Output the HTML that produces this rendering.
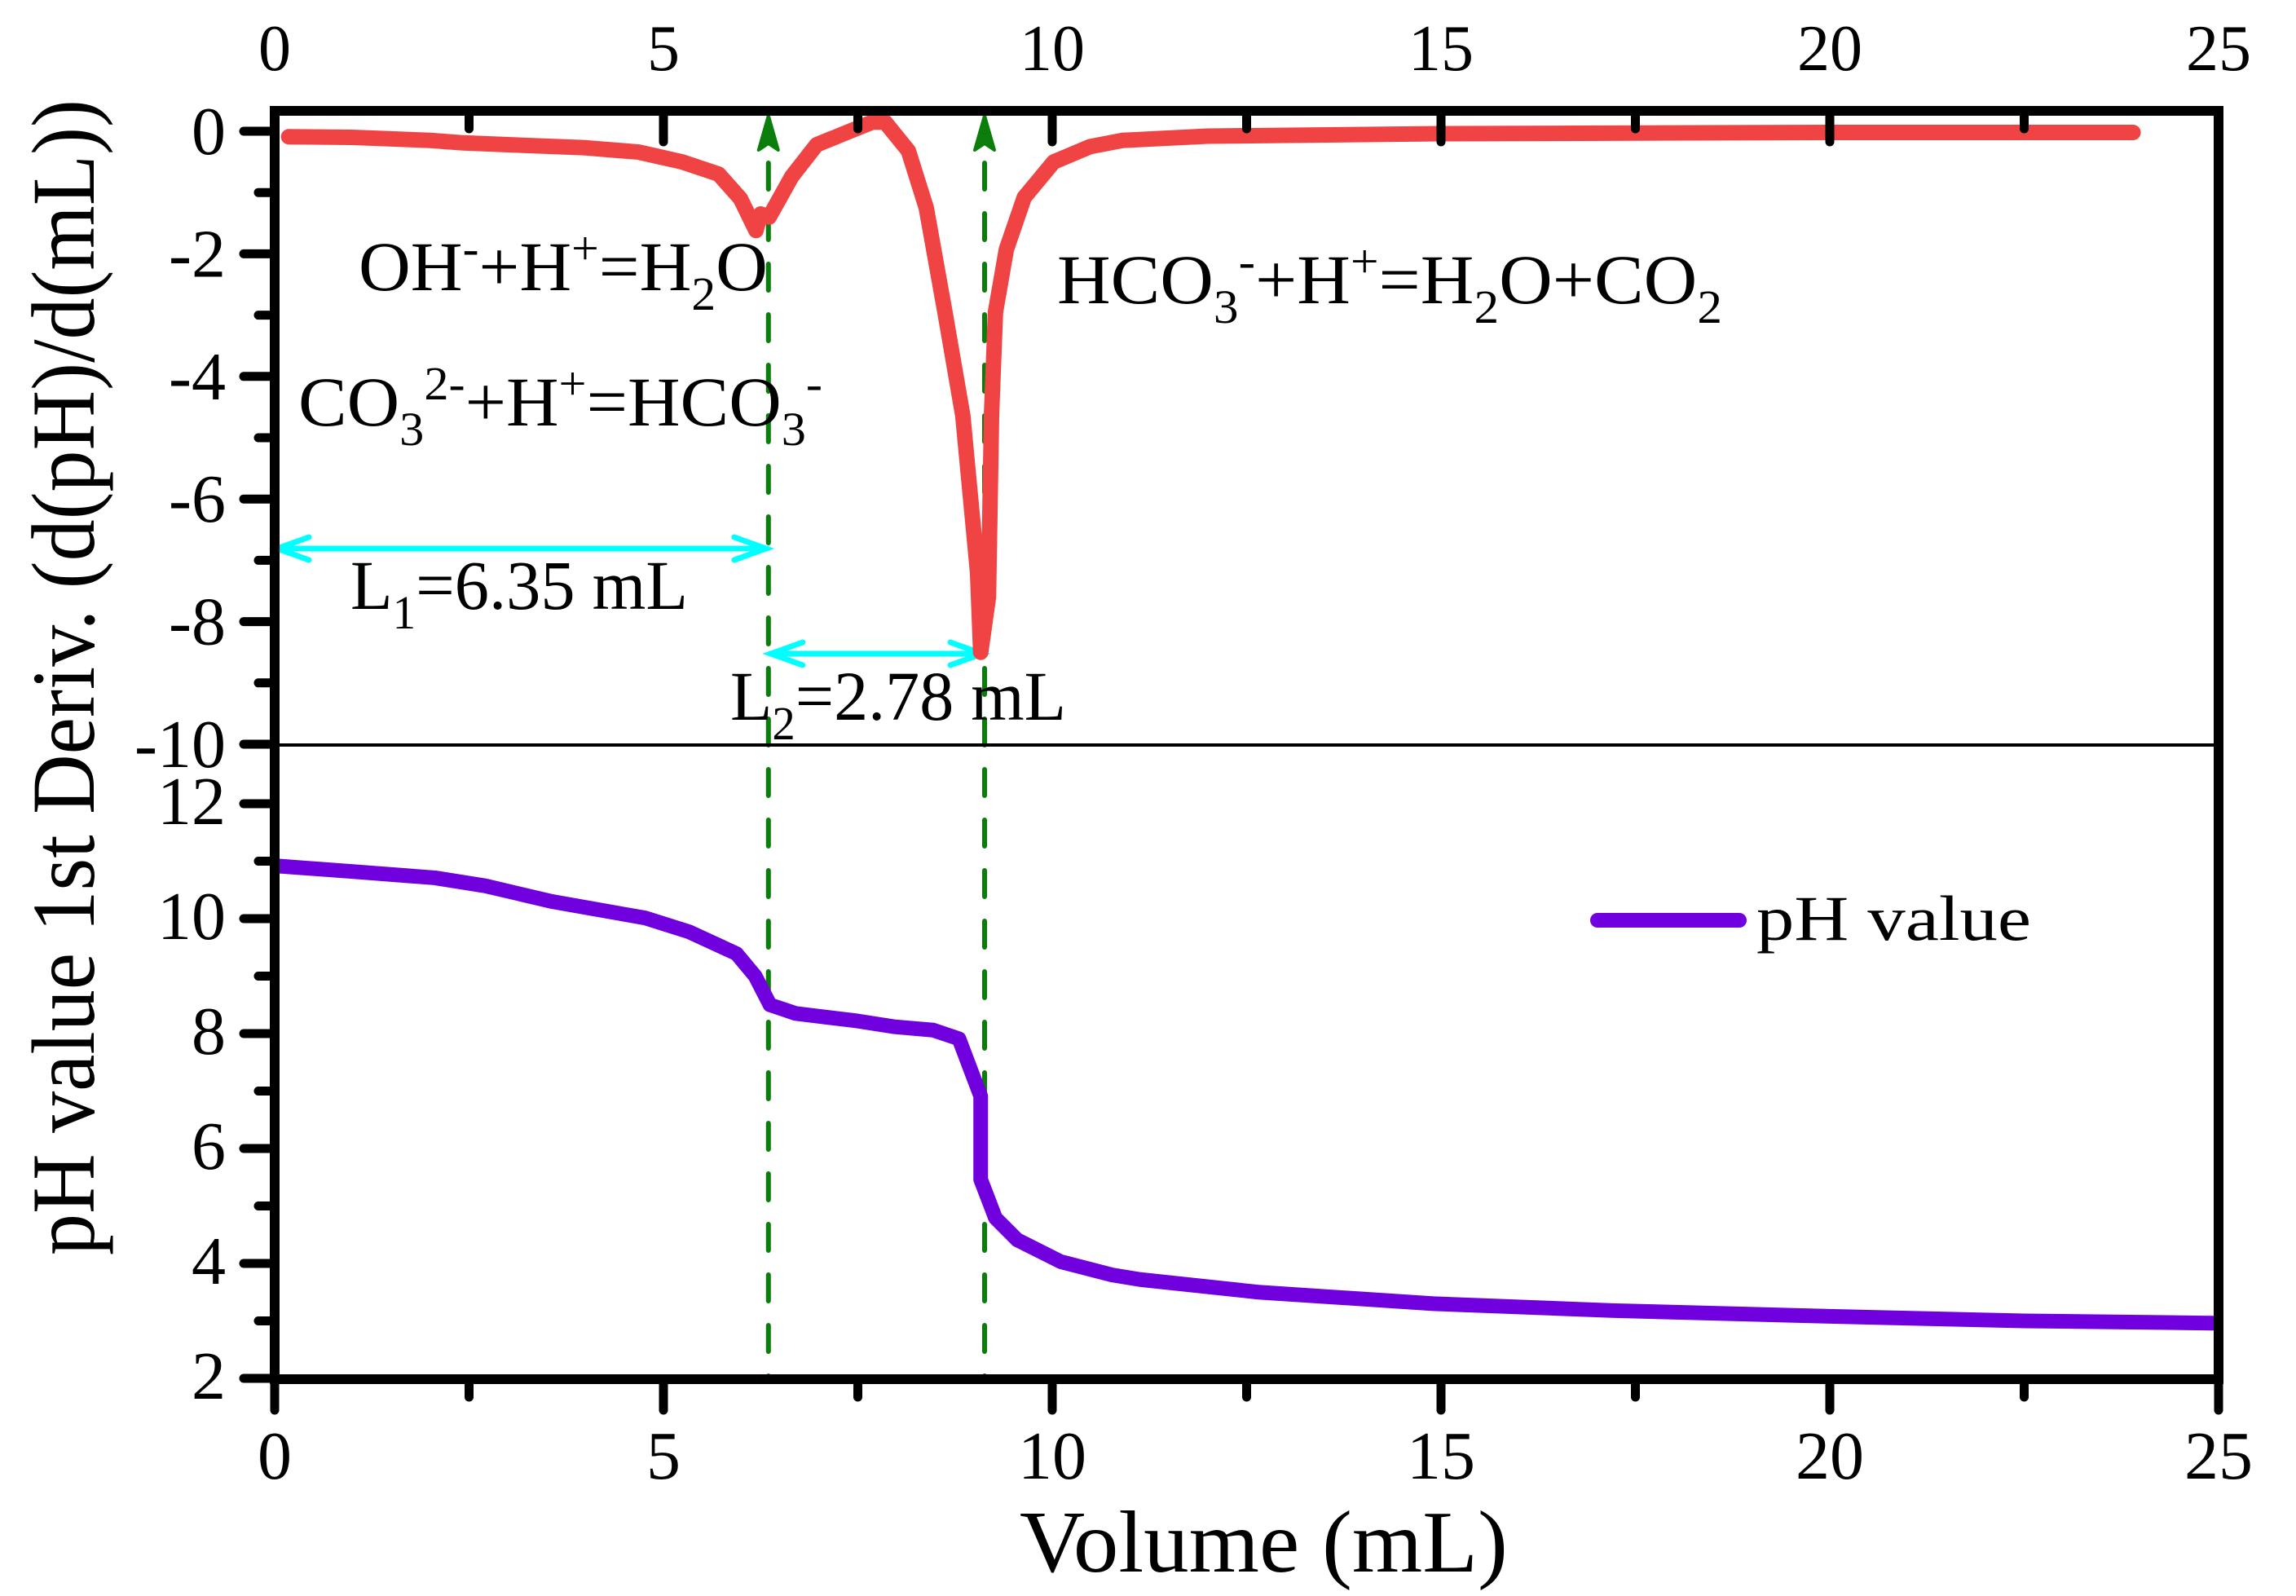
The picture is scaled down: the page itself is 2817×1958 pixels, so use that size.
<!DOCTYPE html>
<html><head><meta charset="utf-8"><style>
html,body{margin:0;padding:0;background:#fff;}
svg{display:block;font-family:"Liberation Serif",serif;}
</style></head><body>
<svg id="chart" width="2817" height="1958" viewBox="0 0 2817 1958" xmlns="http://www.w3.org/2000/svg">
<g id="marks"></g>
<g id="axes"></g>
<g id="annot">
 <text x="440" y="356" font-size="86" textLength="502" lengthAdjust="spacingAndGlyphs">OH<tspan dy="-32" font-size="58">-</tspan><tspan dy="32">+H</tspan><tspan dy="-32" font-size="58">+</tspan><tspan dy="32">=H</tspan><tspan dy="24" font-size="58">2</tspan><tspan dy="-24">O</tspan></text>
 <text x="366" y="522" font-size="86" textLength="643" lengthAdjust="spacingAndGlyphs">CO<tspan dy="24" font-size="58">3</tspan><tspan dy="-56" font-size="58">2-</tspan><tspan dy="32">+H</tspan><tspan dy="-32" font-size="58">+</tspan><tspan dy="32">=HCO</tspan><tspan dy="24" font-size="58">3</tspan><tspan dy="-56" font-size="58">-</tspan></text>
 <text x="1297" y="372" font-size="86" textLength="816" lengthAdjust="spacingAndGlyphs">HCO<tspan dy="24" font-size="58">3</tspan><tspan dy="-56" font-size="58">-</tspan><tspan dy="32">+H</tspan><tspan dy="-32" font-size="58">+</tspan><tspan dy="32">=H</tspan><tspan dy="24" font-size="58">2</tspan><tspan dy="-24">O+CO</tspan><tspan dy="24" font-size="58">2</tspan></text>
 <text x="430" y="747" font-size="86" textLength="414" lengthAdjust="spacingAndGlyphs">L<tspan dy="24" font-size="58">1</tspan><tspan dy="-24">=6.35 mL</tspan></text>
 <text x="896" y="883" font-size="86" textLength="412" lengthAdjust="spacingAndGlyphs">L<tspan dy="24" font-size="58">2</tspan><tspan dy="-24">=2.78 mL</tspan></text>
 <line x1="1960" y1="1129" x2="2134" y2="1129" stroke="#7000dd" stroke-width="18" stroke-linecap="round"/>
 <text x="2155" y="1153" font-size="78" textLength="337" lengthAdjust="spacingAndGlyphs">pH value</text>
 <text transform="translate(115,1540) rotate(-90)" font-size="110" textLength="1418" lengthAdjust="spacingAndGlyphs">pH value  1st Deriv. (d(pH)/d(mL))</text>
 <text x="1251" y="1928" font-size="108" textLength="599" lengthAdjust="spacingAndGlyphs">Volume (mL)</text>
</g>
</svg>
<script>
const derivX = [0.18,1,2,2.43,3,4,4.68,5.24,5.71,5.99,6.19,6.25,6.36,6.65,6.97,7.3,7.69,7.85,8.15,8.38,8.62,8.85,9.04,9.08,9.18,9.22,9.27,9.41,9.64,10.02,10.49,10.9,12,15,20,23.9];
const derivY = [-0.09,-0.1,-0.15,-0.19,-0.22,-0.27,-0.34,-0.5,-0.7,-1.1,-1.62,-1.35,-1.4,-0.74,-0.22,-0.05,0.15,0.15,-0.32,-1.25,-2.95,-4.64,-7.2,-8.5,-7.6,-4.6,-2.95,-1.93,-1.08,-0.5,-0.25,-0.15,-0.08,-0.04,-0.02,-0.02];
const phX = [0,1,2.06,2.71,3.56,4.77,5.33,5.94,6.18,6.37,6.7,7.49,7.96,8.47,8.8,9.08,9.08,9.27,9.55,10.11,10.77,11.13,12.65,14.9,17.2,20.0,22.5,25];
const phY = [10.92,10.82,10.71,10.57,10.3,10.01,9.77,9.39,9.0,8.5,8.35,8.22,8.12,8.06,7.91,6.91,5.46,4.79,4.41,4.03,3.8,3.72,3.5,3.3,3.18,3.08,3.0,2.96];
const xTicks = [0,5,10,15,20,25];
const derivTicks = [0,-2,-4,-6,-8,-10];
const phTicks = [12,10,8,6,4,2];
const endpoints = [6.35, 9.13];

const L=337,R=2722,T=136,B=1692,MID=914;
const sx=v=>L+(v-0)*(R-L)/25;
const syD=v=>161+(0-v)*75.2;
const syP=v=>986+(12-v)*70.5;
const NS='http://www.w3.org/2000/svg';
function mk(tag,attrs,parent){const e=document.createElementNS(NS,tag);for(const k in attrs)e.setAttribute(k,attrs[k]);parent.appendChild(e);return e;}
const marks=document.getElementById('marks'),axes=document.getElementById('axes');

endpoints.forEach((v,i)=>{
  const x=sx(v);
  const ln=mk('line',{x1:x,y1:200,x2:x,y2:B,stroke:'#0a7d0a','stroke-width':6,'stroke-dasharray':'32 30','stroke-linecap':'round'},marks);
  
  
  const ah=mk('path',{d:`M${x} 142 L${x-12} 184 L${x} 176 L${x+12} 184 Z`,fill:'#0a7d0a',stroke:'#0a7d0a','stroke-width':4,'stroke-linejoin':'round'},marks);
  
  
});
function dbl(x1,x2,y,name){
  const g=mk('g',{stroke:'#00ffff','stroke-width':7,fill:'none','stroke-linecap':'round'},marks);
  
  
  mk('line',{x1:x1+2,y1:y,x2:x2-2,y2:y},g);
  mk('path',{d:`M${x1+42} ${y-14} L${x1+3} ${y} L${x1+42} ${y+14}`},g);
  mk('path',{d:`M${x2-42} ${y-14} L${x2-3} ${y} L${x2-42} ${y+14}`},g);
}
dbl(sx(0),sx(endpoints[0]),673,'l1-arrow');
dbl(sx(endpoints[0]),sx(endpoints[1]),802,'l2-arrow');

const dPts=derivX.map((x,i)=>sx(x)+','+syD(derivY[i])).join(' ');
const dl=mk('polyline',{points:dPts,fill:'none',stroke:'#f04444','stroke-width':19,'stroke-linejoin':'round','stroke-linecap':'round'},marks);


const pPts=phX.map((x,i)=>sx(x)+','+syP(phY[i])).join(' ');
const pl=mk('polyline',{points:pPts,fill:'none',stroke:'#7000dd','stroke-width':18,'stroke-linejoin':'round'},marks);



const fr=mk('path',{d:`M${L} ${T} H${R} V${B} H${L} Z`,fill:'none',stroke:'#000','stroke-width':12},axes);


const dv=mk('line',{x1:L,y1:MID,x2:R,y2:MID,stroke:'#000','stroke-width':4},axes);



const tk={stroke:'#000','stroke-width':11,'stroke-linecap':'round'};
for(let v=0;v<=25;v+=2.5){
  const x=sx(v),maj=(v%5===0),len=maj?38:22;
  const t1=mk('line',Object.assign({x1:x,y1:T,x2:x,y2:T+len},tk),axes);
  
  
  const t2=mk('line',Object.assign({x1:x,y1:B,x2:x,y2:B+len},tk),axes);
  
  
}
xTicks.forEach(v=>{
  const a=mk('text',{x:sx(v),y:86,'font-size':80,'text-anchor':'middle'},axes);a.textContent=v;
  
  
  const b=mk('text',{x:sx(v),y:1814,'font-size':84,'text-anchor':'middle'},axes);b.textContent=v;
  
  
});
for(let v=0;v>=-10;v--){
  const y=syD(v),maj=(v%2===0),len=maj?38:20;
  const t=mk('line',Object.assign({x1:L-len,y1:y,x2:L,y2:y},tk),axes);
  
  
}
derivTicks.forEach(v=>{
  const t=mk('text',{x:277,y:syD(v)+28,'font-size':84,'text-anchor':'end'},axes);t.textContent=v;
  
  
});
for(let v=12;v>=2;v--){
  const y=syP(v),maj=(v%2===0),len=maj?38:20;
  const t=mk('line',Object.assign({x1:L-len,y1:y,x2:L,y2:y},tk),axes);
  
  
}
phTicks.forEach(v=>{
  const t=mk('text',{x:277,y:syP(v)+25,'font-size':84,'text-anchor':'end'},axes);t.textContent=v;
  
  
});
</script>
</body></html>
